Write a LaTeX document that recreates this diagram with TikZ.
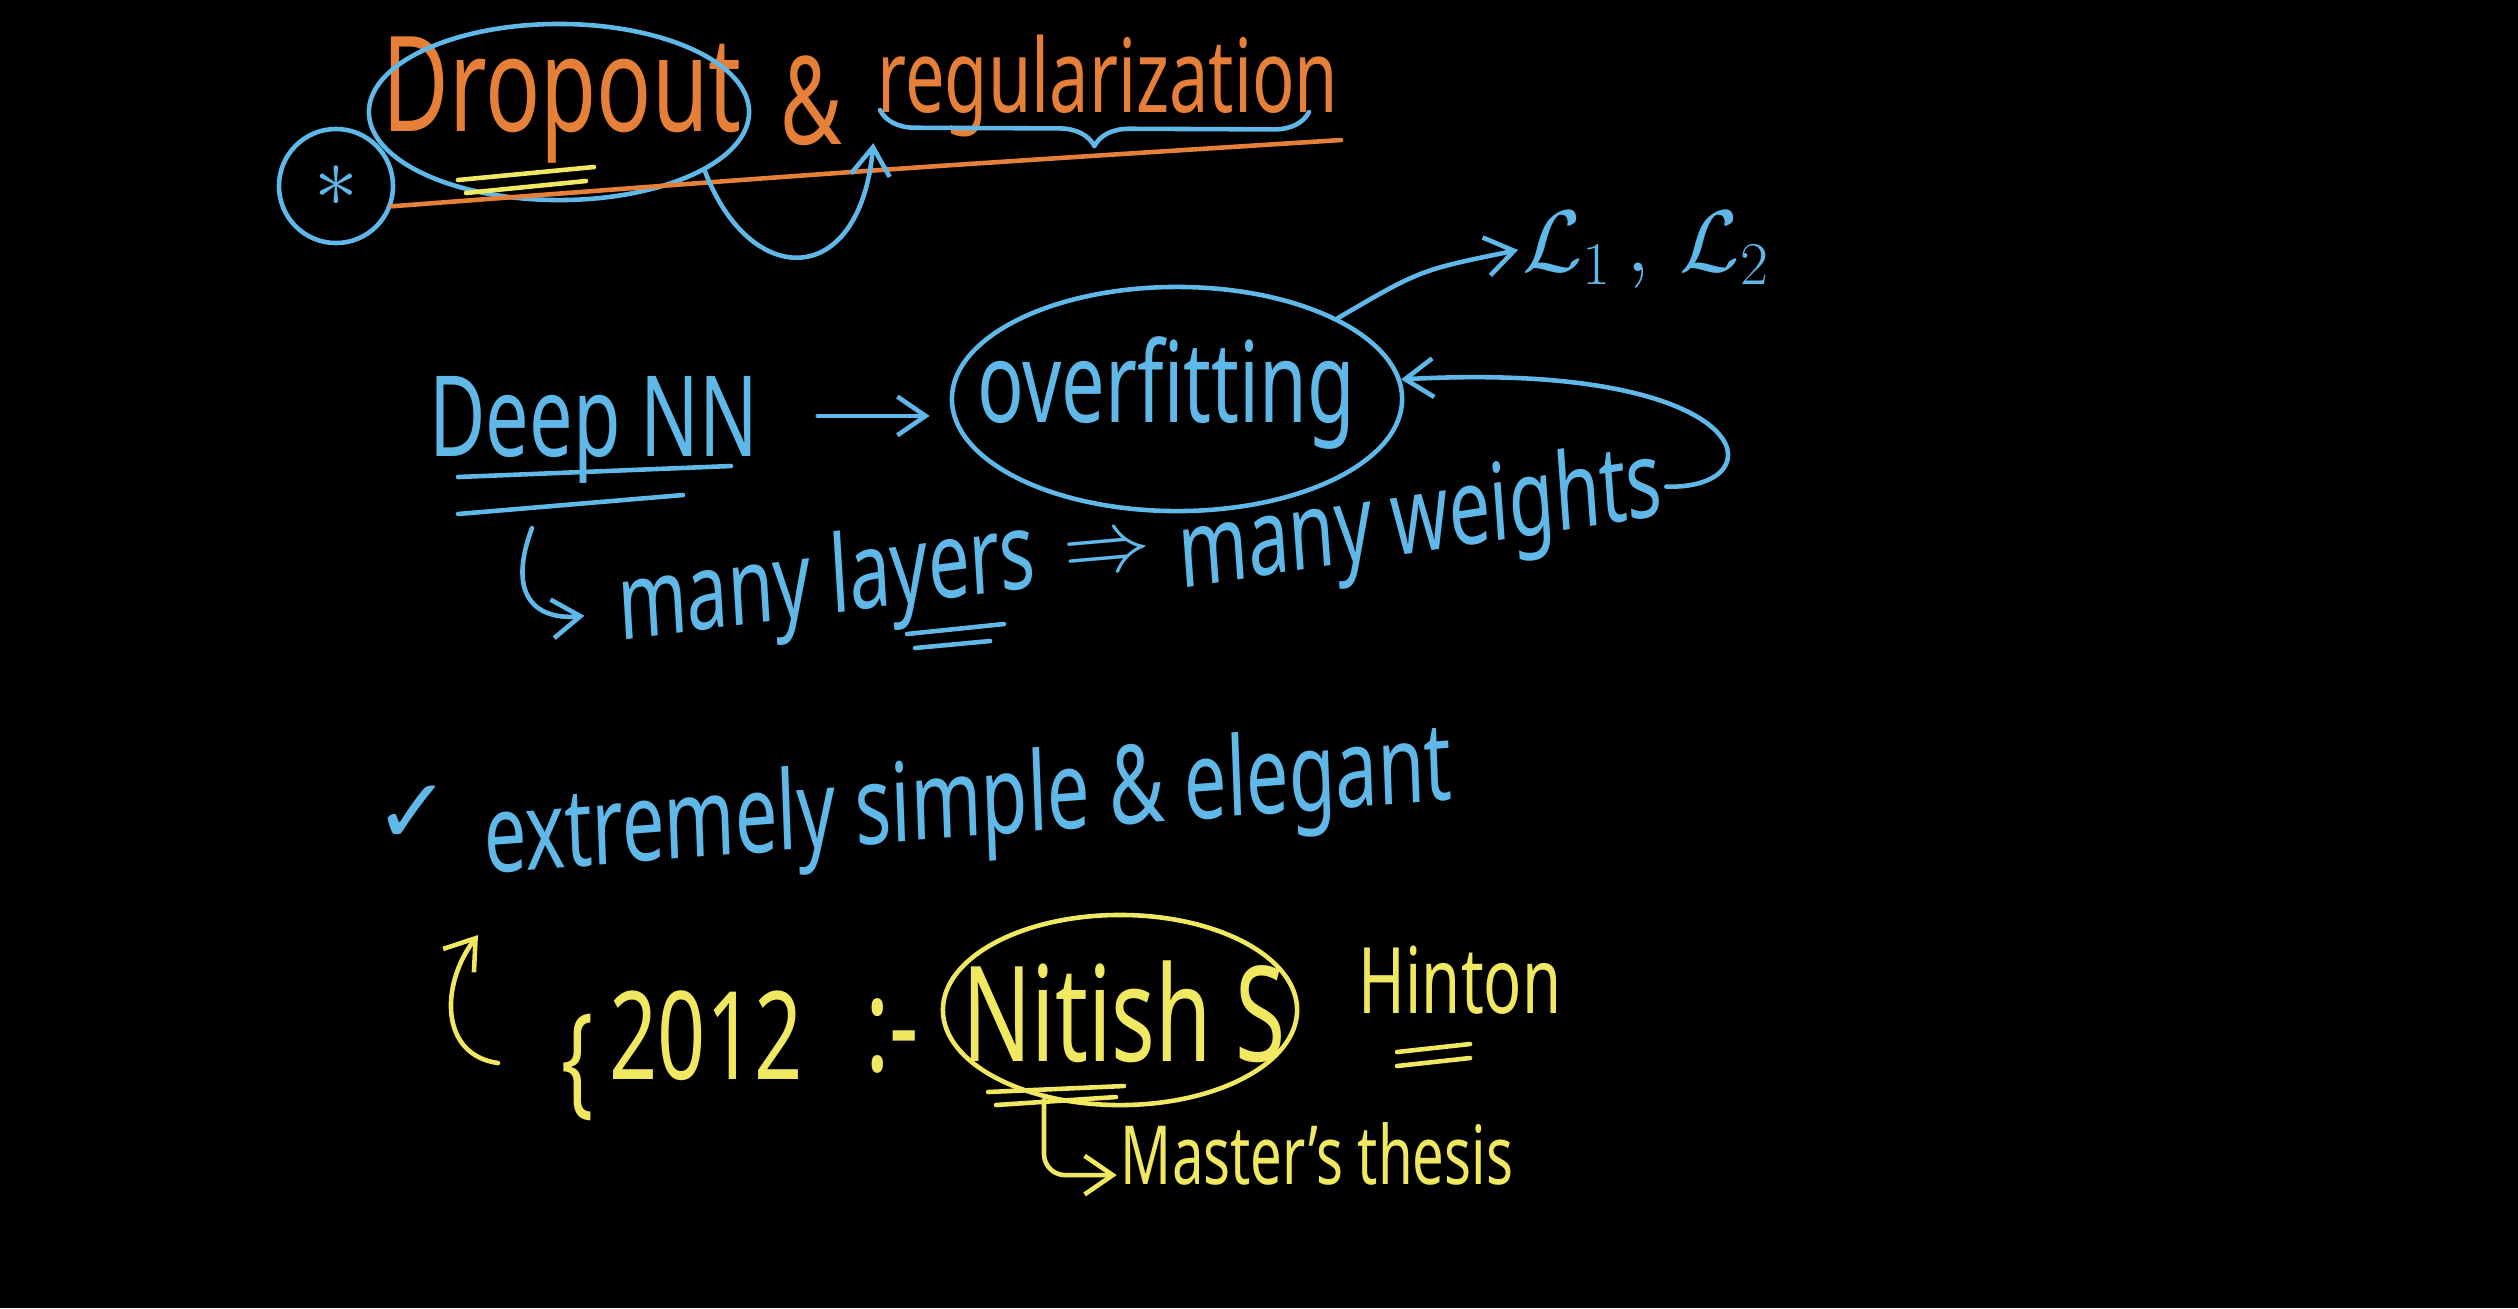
\documentclass[tikz,border=0pt]{standalone}
\usepackage{fontspec}
\setmainfont{Noto Sans}
\newfontfamily\symfont{DejaVu Sans}
\usetikzlibrary{arrows.meta,shapes.geometric,decorations.pathreplacing}
\definecolor{inkblue}{RGB}{96,184,232}
\definecolor{inkorange}{RGB}{230,128,56}
\definecolor{inkyellow}{RGB}{240,232,96}

\begin{document}
\begin{tikzpicture}[x=0.01cm,y=-0.01cm,>={Straight Barb[length=8pt,width=11pt]},
    ink/.style={inner sep=1pt,yscale=1.45},
    blueink/.style={ink,text=inkblue},
    orangeink/.style={ink,text=inkorange},
    yellowink/.style={ink,text=inkyellow},
    ring/.style={ellipse,draw,line width=1.3pt,inner sep=0pt},
    pen/.style={line width=1.3pt,line cap=round,line join=round}]
    \fill[black] (0,0) rectangle (2518,1308);
    \useasboundingbox (0,0) rectangle (2518,1308);

    \node[orangeink,font=\fontsize{26}{26}\selectfont] (drop) at (562,100) {Dropout};
    \node[ring,draw=inkblue,minimum width=3.8cm,minimum height=1.76cm] (dropring) at (559,112) {};
    \node[circle,draw=inkblue,line width=1.3pt,minimum size=1.14cm,inner sep=0pt,text=inkblue,font=\fontsize{30}{30}\selectfont] (star) at (336,186) {$\ast$};
    \node[orangeink,font=\fontsize{24}{24}\selectfont] (amp) at (811,101) {\&};
    \node[orangeink,font=\fontsize{20}{20}\selectfont] (reg) at (1108,86) {regularization};
    \coordinate (braceL) at (880,110);
    \coordinate (braceR) at (1309,112);
    \coordinate (regline) at (1341,140);

    \draw[pen,inkyellow] (458,180) -- (594,167);
    \draw[pen,inkyellow] (466,193) -- (586,181);
    \draw[pen,inkorange] (star.-20) .. controls (870,170) .. (regline);
    \draw[pen,inkblue,decorate,decoration={brace,mirror,amplitude=10pt}] (braceL) -- (braceR);
    \draw[pen,inkblue,->] (dropring.-22) .. controls (750,290) and (860,290) .. (reg.south west);

    \node[blueink,font=\fontsize{22}{22}\selectfont] (deepnn) at (594,430) {Deep NN};
    \node[blueink,font=\fontsize{22}{22}\selectfont] (over) at (1166,393) {overfitting};
    \node[ring,draw=inkblue,minimum width=4.5cm,minimum height=2.24cm] (overring) at (1177,399) {};
    \node[text=inkblue,inner sep=1pt,font=\fontsize{24}{24}\selectfont] (loss) at (1646,250) {$\mathcal{L}_1\,,\,\mathcal{L}_2$};
    \node[blueink,rotate=5,font=\fontsize{21}{21}\selectfont] (layers) at (827,586) {many layers};
    \node[text=inkblue,inner sep=1pt,rotate=5,font=\fontsize{23}{23}\selectfont] (implies) at (1108,556) {$\Rightarrow$};
    \node[blueink,rotate=6,font=\fontsize{21}{21}\selectfont] (weights) at (1421,524) {many weights};
    \coordinate (hookA) at (532,528);

    \draw[pen,inkblue] (458,477) -- (731,466);
    \draw[pen,inkblue] (458,514) -- (683,495);
    \draw[pen,inkblue] (907,634) -- (1004,624);
    \draw[pen,inkblue] (915,648) -- (990,641);
    \draw[pen,inkblue,->,shorten <=0.55cm,shorten >=0.2cm] ([yshift=4pt]deepnn.east) -- ([yshift=4pt]deepnn.east -| overring.west);
    \draw[pen,inkblue,->] (overring.north east) .. controls (1420,270) .. (loss.west);
    \draw[pen,inkblue,->] (weights.east) .. controls (1780,490) and (1760,360) .. (overring.5);
    \draw[pen,inkblue,->,shorten >=0.3cm] (hookA) .. controls (505,600) and (540,620) .. (layers.west);

    \node[text=inkblue,inner sep=1pt,font=\symfont\fontsize{26}{26}\selectfont] (check) at (413,815) {✓};
    \node[blueink,rotate=3,font=\fontsize{21.5}{21.5}\selectfont] (simple) at (968,808) {extremely simple \& elegant};

    \node[yellowink,font=\fontsize{24}{24}\selectfont] (lbrace) at (578,1067) {\{};
    \node[yellowink,font=\fontsize{24}{24}\selectfont] (year) at (706,1036) {2012};
    \node[yellowink,font=\fontsize{26}{26}\selectfont] (sep) at (892,1036) {:-};
    \node[yellowink,font=\fontsize{26}{26}\selectfont] (nitish) at (1124,1012) {Nitish S};
    \node[ring,draw=inkyellow,minimum width=3.54cm,minimum height=1.9cm] (nitring) at (1120,1010) {};
    \node[yellowink,font=\fontsize{18}{18}\selectfont] (hinton) at (1460,980) {Hinton};
    \node[yellowink,font=\fontsize{16}{16}\selectfont] (thesis) at (1317,1154) {Master's thesis};
    \coordinate (hookB) at (1044,1100);
    \coordinate (parbot) at (498,1063);
    \coordinate (partop) at (478,935);

    \draw[pen,inkyellow] (988,1092) -- (1124,1086);
    \draw[pen,inkyellow] (996,1105) -- (1116,1097);
    \draw[pen,inkyellow] (1397,1052) -- (1470,1044);
    \draw[pen,inkyellow] (1397,1066) -- (1470,1058);
    \draw[pen,inkyellow,->,rounded corners=6pt] (hookB) |- ([yshift=-6pt]thesis.west);
    \draw[pen,inkyellow,->] (parbot) .. controls (440,1055) and (440,985) .. (partop);
\end{tikzpicture}
\end{document}
